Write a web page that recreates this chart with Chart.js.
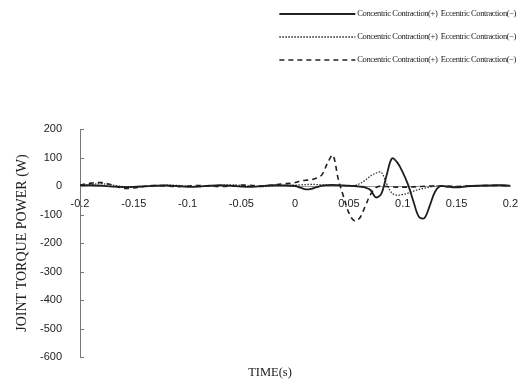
<!DOCTYPE html>
<html>
<head>
<meta charset="utf-8">
<script src="https://cdn.jsdelivr.net/npm/chart.js@4"></script>
<style>
  html, body { margin: 0; padding: 0; background: #fff; }
  #wrap { width: 521px; height: 391px; }
</style>
</head>
<body>
<div id="wrap"><canvas id="powerChart" width="521" height="391"></canvas></div>
<script>
// time axis (s)
const timeS = [-0.2, -0.19, -0.18, -0.17, -0.16, -0.15, -0.14, -0.13, -0.12, -0.11,
    -0.1, -0.09, -0.08, -0.07, -0.06, -0.05, -0.04, -0.03, -0.02, -0.01,
    0, 0.005, 0.01, 0.015, 0.02, 0.025, 0.03, 0.035, 0.04, 0.045,
    0.05, 0.055, 0.06, 0.065, 0.07, 0.075, 0.08, 0.085, 0.09, 0.095,
    0.1, 0.105, 0.11, 0.115, 0.12, 0.125, 0.13, 0.135, 0.14,
    0.15, 0.16, 0.17, 0.18, 0.19, 0.2];

// joint torque power (W)
const solidPower = [2, 3, 1, -2, -4, -3, -1, 1, 2, 0, -3, -2, 1, 3, 1, -2, -3, 0, 3, 2,
    0, -6, -12, -10, -4, 1, 3, 4, 3, 2, 1, 0, -2, -5, -14, -40, -28, 38, 97, 82,
    48, 4, -55, -108, -113, -70, -20, 0, -2,
    -5, -1, 1, 2, 3, 1];
const dottedPower = [0, 5, 8, 3, -2, -4, -2, 0, 3, 2, 0, -2, 0, 2, 4, 2, 0, -2, 0, 2,
    3, 4, 5, 6, 5, 4, 3, 2, 2, 1, 0, 2, 8, 20, 35, 45, 48, 8, -25, -32,
    -30, -25, -18, -12, -8, -4, 0, 0, 0,
    -2, 0, 1, 1, 2, 1];
const dashedPower = [3, 10, 12, 4, -8, -7, -1, 2, 0, -2, 0, 2, 0, -2, 0, 3, 2, 0, 4, 8,
    12, 18, 20, 22, 28, 40, 80, 108, 25, -38, -95, -122, -112, -72, -30, -6, 0, -2, -3, -4,
    -4, -4, -3, -2, -1, 0, 0, 0, 0,
    -2, 0, 1, 2, 2, 1];

const seriesLabel = 'Concentric Contraction(+)  Eccentric Contraction(\u2212)';
const yTicks = [200, 100, 0, -100, -200, -300, -400, -500, -600];

const toPoints = vals => vals.map((v, i) => ({ x: timeS[i], y: v }));

// legend rows + x title drawn by hand, like the figure
const extras = {
    id: 'extras',
    afterDraw(chart) {
        const ctx = chart.ctx;
        const yScale = chart.scales.y;
        ctx.save();
        // small inward ticks on the y axis
        ctx.strokeStyle = '#777';
        ctx.lineWidth = 1;
        yTicks.forEach(v => {
            const py = Math.round(yScale.getPixelForValue(v)) + 0.5;
            ctx.beginPath();
            ctx.moveTo(yScale.right, py);
            ctx.lineTo(yScale.right + 4, py);
            ctx.stroke();
        });
        // legend
        ctx.font = '8.5px "Liberation Serif", serif';
        ctx.letterSpacing = '-0.4px';
        ctx.textBaseline = 'middle';
        ctx.fillStyle = '#222';
        chart.data.datasets.forEach((ds, i) => {
            const rowY = 14 + i * 23;
            const textW = ctx.measureText(ds.label).width;
            const textX = 516 - textW;
            ctx.fillText(ds.label, textX, rowY);
            ctx.strokeStyle = '#222';
            ctx.lineWidth = ds.borderWidth;
            ctx.setLineDash(ds.borderDash || []);
            ctx.beginPath();
            ctx.moveTo(textX - 78, rowY);
            ctx.lineTo(textX - 2, rowY);
            ctx.stroke();
        });
        ctx.setLineDash([]);
        ctx.letterSpacing = '0px';
        ctx.font = '12.5px "Liberation Serif", serif';
        ctx.textAlign = 'center';
        ctx.fillText('TIME(s)', 270, 373);
        ctx.restore();
    }
};

new Chart(document.getElementById('powerChart'), {
    type: 'line',
    data: {
        datasets: [
            { label: seriesLabel, data: toPoints(solidPower), borderColor: '#1e1e1e', borderWidth: 1.8, tension: 0.35 },
            { label: seriesLabel, data: toPoints(dottedPower), borderColor: '#333', borderWidth: 1.3, borderDash: [1.5, 1.5], tension: 0.35 },
            { label: seriesLabel, data: toPoints(dashedPower), borderColor: '#1e1e1e', borderWidth: 1.6, borderDash: [5, 4], tension: 0.35 }
        ]
    },
    options: {
        responsive: false,
        animation: false,
        layout: { padding: { top: 129, right: 9, bottom: 34, left: 0 } },
        elements: { point: { radius: 0 } },
        plugins: { legend: { display: false }, tooltip: { enabled: false } },
        scales: {
            x: {
                type: 'linear',
                position: { y: 0 },
                min: -0.2, max: 0.2,
                afterFit: s => { s.height = 0; },
                grid: { display: false },
                border: { display: true, color: '#999', width: 1 },
                ticks: {
                    stepSize: 0.05,
                    padding: 3,
                    color: '#222',
                    font: { family: 'Liberation Sans', size: 11 },
                    callback: v => String(Number(v.toFixed(2)))
                }
            },
            y: {
                min: -600, max: 200,
                afterFit: s => { s.width = 80; },
                grid: { display: false },
                border: { display: true, color: '#777', dash: [1, 1.5], width: 1 },
                ticks: {
                    stepSize: 100,
                    padding: 10,
                    color: '#222',
                    font: { family: 'Liberation Sans', size: 11 }
                },
                title: {
                    display: true,
                    text: 'JOINT TORQUE POWER (W)',
                    color: '#222',
                    font: { family: 'Liberation Serif', size: 14 },
                    padding: { top: 14, bottom: 0 }
                }
            }
        }
    },
    plugins: [extras]
});
</script>
</body>
</html>
